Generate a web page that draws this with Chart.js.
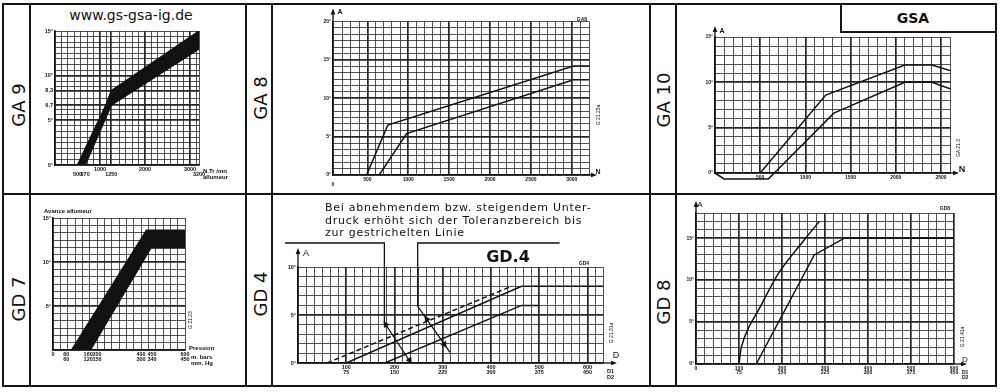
<!DOCTYPE html>
<html>
<head>
<meta charset="utf-8">
<title>Zündverstellkurven GA / GD</title>
<script src="https://cdn.jsdelivr.net/npm/chart.js@4.4.1/dist/chart.umd.min.js"></script>
<style>
  body { margin: 0; width: 1000px; height: 392px; position: relative; overflow: hidden; background: #fff; color: #111; font-family: 'DejaVu Sans', sans-serif; }
  .strich { position: absolute; background: #151515; }
  .txt { position: absolute; white-space: nowrap; line-height: 1; }
  .mitte { transform: translate(-50%, -50%); }
  .seite { position: absolute; font-size: 18px; white-space: nowrap; line-height: 1; transform: translate(-50%, -50%) rotate(-90deg); }
  .klein { font-family: 'Liberation Sans', sans-serif; font-size: 7px; font-weight: bold; }
  .code { position: absolute; font-family: 'Liberation Sans', sans-serif; font-size: 5px; white-space: nowrap; transform: translate(-50%, -50%) rotate(-90deg); }
  canvas { position: absolute; }
</style>
</head>
<body>

<!-- Rahmen und Felder -->
<div class="strich" style="left:3px;top:3px;width:994px;height:2px"></div>
<div class="strich" style="left:3px;top:385px;width:994px;height:2px"></div>
<div class="strich" style="left:2px;top:3px;width:2px;height:384px"></div>
<div class="strich" style="left:995px;top:3px;width:2px;height:384px"></div>
<div class="strich" style="left:3px;top:193px;width:994px;height:2px"></div>
<div class="strich" style="left:245px;top:3px;width:2px;height:384px"></div>
<div class="strich" style="left:649px;top:3px;width:2px;height:384px"></div>
<div class="strich" style="left:29px;top:3px;width:1.5px;height:384px"></div>
<div class="strich" style="left:271px;top:3px;width:1.5px;height:384px"></div>
<div class="strich" style="left:675px;top:3px;width:1.5px;height:384px"></div>
<div class="strich" style="left:840px;top:3px;width:1.5px;height:29px"></div>
<div class="strich" style="left:840px;top:31px;width:156px;height:1.5px"></div>

<div class="seite" style="left:19px;top:105px">GA 9</div>
<div class="seite" style="left:261px;top:98px">GA 8</div>
<div class="seite" style="left:664px;top:100px">GA 10</div>
<div class="seite" style="left:19px;top:299px">GD 7</div>
<div class="seite" style="left:261px;top:294px">GD 4</div>
<div class="seite" style="left:664px;top:302px">GD 8</div>

<div class="txt mitte" style="left:131px;top:15px;font-size:14px">www.gs-gsa-ig.de</div>
<div class="txt mitte" style="left:913px;top:18px;font-size:14px;font-weight:bold">GSA</div>

<canvas id="ga9"></canvas>
<canvas id="ga8"></canvas>
<canvas id="ga10"></canvas>
<canvas id="gd7"></canvas>
<canvas id="gd4"></canvas>
<canvas id="gd8"></canvas>

<!-- Beschriftungen ausserhalb der Achsen -->
<div class="txt klein" style="left:203px;top:168px;font-size:6px">N.Tr /mn</div>
<div class="txt klein" style="left:203px;top:174px;font-size:6px">allumeur</div>

<div class="txt klein mitte" style="left:340px;top:11px;font-size:7px">A</div>
<div class="txt klein mitte" style="left:598px;top:171px;font-size:7px">N</div>
<div class="txt klein mitte" style="left:582px;top:19px;font-size:5px">GA8</div>
<div class="txt klein mitte" style="left:333px;top:184px;font-size:5px">0</div>
<div class="code" style="left:598px;top:115px">G 21.23a</div>

<div class="txt klein mitte" style="left:722px;top:30px;font-size:7px">A</div>
<div class="txt klein mitte" style="left:962px;top:169px;font-size:9px">N</div>
<div class="code" style="left:958px;top:148px">GA 21.3</div>

<div class="txt klein" style="left:44px;top:208px;font-size:6px">Avance allumeur</div>
<div class="txt klein" style="left:189px;top:345px;font-size:6px">Pression</div>
<div class="txt klein" style="left:191px;top:353.5px;font-size:6px">m. bars</div>
<div class="txt klein" style="left:191px;top:359.5px;font-size:6px">mm. Hg</div>
<div class="code" style="left:190px;top:320px">G 21.23</div>

<div class="txt" style="left:325px;top:202px;font-size:11px;line-height:12.5px;letter-spacing:0.75px">Bei abnehmendem bzw. steigendem Unter-<br>druck erhöht sich der Toleranzbereich bis<br>zur gestrichelten Linie</div>
<div class="txt mitte" style="left:508px;top:257px;font-size:16px;font-weight:bold">GD.4</div>
<div class="txt klein mitte" style="left:306px;top:253px;font-size:9px;font-weight:normal">A</div>
<div class="txt klein mitte" style="left:584px;top:263px;font-size:5px">GD4</div>
<div class="txt klein mitte" style="left:616px;top:355px;font-size:9px;font-weight:normal">D</div>
<div class="txt klein" style="left:607px;top:369px;font-size:5.5px;line-height:5.6px">D1<br>D2</div>
<div class="code" style="left:611px;top:333px">G 21.31a</div>

<div class="txt klein mitte" style="left:700px;top:205px;font-size:8px;font-weight:normal">A</div>
<div class="txt klein mitte" style="left:945px;top:208px;font-size:5px">GD8</div>
<div class="txt klein mitte" style="left:965px;top:360px;font-size:8px;font-weight:normal">D</div>
<div class="txt klein" style="left:962px;top:370px;font-size:5px;line-height:4.6px">D1<br>D2</div>
<div class="code" style="left:962px;top:337px">G 21.41a</div>

<script>
// ---------- Werte ----------

// GA 9: Toleranzband Fliehkraftverstellung (Grad über Drehzahl)
var ga9ObenN = [500, 1130, 1250, 3200];
var ga9ObenGrad = [0, 6.7, 8.3, 15];
var ga9UntenN = [500, 670, 1250, 3200];
var ga9UntenGrad = [0, 0, 6.7, 13];
var ga9XTicks = [500, 670, 1000, 1250, 2000, 3000, 3200];
var ga9XLabels = [['', '500'], ['', '670'], ['1000', ''], ['', '1250'], ['2000', ''], ['3000', ''], ['', '3200']];
var ga9YTicks = [0, 5, 6.7, 8.3, 10, 15];
var ga9YLabels = ['0°', '5°', '6,7', '8,3', '10°', '15°'];

// GA 8
var ga8ObenN = [490, 750, 3020, 3210];
var ga8ObenGrad = [0, 6.5, 14.2, 14.2];
var ga8UntenN = [645, 980, 3020, 3210];
var ga8UntenGrad = [0, 5.4, 12.4, 12.4];
var ga8XTicks = [500, 1000, 1500, 2000, 2500, 3000];
var ga8XLabels = ['500', '1000', '1500', '2000', '2500', '3000'];
var ga8YTicks = [0, 5, 10, 15, 20];
var ga8YLabels = ['0°', '5°', '10°', '15°', '20°'];

// GA 10
var ga10ObenN = [500, 1225, 2100, 2400, 2600];
var ga10ObenGrad = [0, 8.6, 11.9, 11.9, 11.3];
var ga10UntenN = [0, 100, 590, 1315, 2100, 2400, 2600];
var ga10UntenGrad = [0, -0.66, -0.66, 6.6, 10, 10, 9.3];
var ga10XTicks = [500, 1000, 1500, 2000, 2500];
var ga10XLabels = ['500', '1000', '1500', '2000', '2500'];
var ga10YTicks = [0, 5, 10, 15];
var ga10YLabels = ['0°', '5°', '10°', '15°'];

// GD 7: Toleranzband Unterdruckverstellung (Grad über Unterdruck)
var gd7ObenP = [85, 425, 600];
var gd7ObenGrad = [0, 13.6, 13.6];
var gd7UntenP = [85, 170, 445, 600];
var gd7UntenGrad = [0, 0, 11.6, 11.6];
var gd7XTicks = [0, 60, 160, 200, 400, 450, 600];
var gd7XLabels = [['0', ''], ['60', '60'], ['160', '120'], ['200', '150'], ['400', '300'], ['450', '340'], ['600', '450']];
var gd7YTicks = [5, 10, 15];
var gd7YLabels = ['5°', '10°', '15°'];

// GD 4
var gd4StrichD = [60, 443];
var gd4StrichGrad = [0, 8];
var gd4ObenD = [100, 463, 632];
var gd4ObenGrad = [0, 8, 8];
var gd4UntenD = [180, 463, 500];
var gd4UntenGrad = [0, 6, 6];
var gd4HinweisLinksD = [-27, 179, 179, 234];
var gd4HinweisLinksGrad = [12.5, 12.5, 4.2, 0];
var gd4HinweisRechtsD = [542, 248, 248, 315];
var gd4HinweisRechtsGrad = [12.5, 12.5, 5.9, 1.1];
var gd4SpitzenD = [182, 231, 267, 303];
var gd4SpitzenGrad = [4.0, 0.3, 4.55, 1.95];
var gd4SpitzenWinkel = [327, 147, 325, 145];
var gd4XTicks = [100, 200, 300, 400, 500, 600];
var gd4XLabels = [['100', '75'], ['200', '150'], ['300', '225'], ['400', '300'], ['500', '375'], ['600', '450']];
var gd4YTicks = [0, 5, 10];
var gd4YLabels = ['0°', '5°', '10°'];

// GD 8
var gd8LinksD = [100, 106, 122, 147, 193, 255, 287];
var gd8LinksGrad = [0, 2.1, 4.3, 6.6, 10.9, 15, 17];
var gd8RechtsD = [140, 275, 345, 600];
var gd8RechtsGrad = [0, 13, 15, 15];
var gd8XTicks = [0, 100, 200, 300, 400, 500, 600];
var gd8XLabels = [['0', ''], ['100', '75'], ['200', '150'], ['300', '225'], ['400', '300'], ['500', '375'], ['600', '450']];
var gd8YTicks = [0, 5, 10, 15];
var gd8YLabels = ['0°', '5°', '10°', '15°'];


// ---------- Hilfsfunktionen ----------

Chart.defaults.font.family = 'Liberation Sans';
Chart.defaults.color = '#111';

function punkte(xs, ys) {
    return xs.map(function (x, i) { return { x: x, y: ys[i] }; });
}

// Rasterlinien: gleichmässige Teilung plus Zusatzlinien
function raster(start, ende, schritt, extra) {
    var werte = [];
    extra = extra || [];
    for (var i = 0; start + i * schritt <= ende + 1e-6; i++) {
        werte.push(+(start + i * schritt).toFixed(4));
    }
    werte = werte.filter(function (v) {
        return !extra.some(function (e) { return Math.abs(e - v) < schritt * 0.35 && e !== v; });
    });
    werte = Array.from(new Set(werte.concat(extra))).sort(function (a, b) { return a - b; });
    return werte;
}

function nullPadding(s) {
    s.paddingLeft = 0; s.paddingRight = 0; s.paddingTop = 0; s.paddingBottom = 0;
}

function staerke(liste) {
    return function (ctx) {
        return ctx.tick && liste.indexOf(ctx.tick.value) >= 0 ? 1.7 : 0.8;
    };
}

function achsen(c) {
    var schrift = { family: 'Liberation Sans', size: c.schrift || 7, weight: 'bold', lineHeight: c.zeile || 0.95 };
    return {
        xg: {
            type: 'linear', position: 'bottom', min: c.xMin, max: c.xMax,
            afterBuildTicks: function (s) { s.ticks = c.xRaster.map(function (v) { return { value: v }; }); },
            ticks: { display: false },
            grid: { color: '#262626', lineWidth: staerke(c.xStark), drawTicks: false },
            border: { display: true, color: '#111', width: 1.5 },
            afterFit: function (s) { s.height = 0; nullPadding(s); }
        },
        x: {
            type: 'linear', position: 'bottom', min: c.xMin, max: c.xMax,
            afterBuildTicks: function (s) { s.ticks = c.xTicks.map(function (v) { return { value: v }; }); },
            ticks: { autoSkip: false, maxRotation: 0, padding: 2, font: schrift, callback: function (v, i) { return c.xLabels[i]; } },
            grid: { display: false, drawTicks: false },
            border: { display: false },
            afterFit: function (s) { s.height = c.xH; nullPadding(s); }
        },
        yg: {
            type: 'linear', position: 'left', min: c.yMin, max: c.yMax,
            afterBuildTicks: function (s) { s.ticks = c.yRaster.map(function (v) { return { value: v }; }); },
            ticks: { display: false },
            grid: { color: '#262626', lineWidth: staerke(c.yStark), drawTicks: false },
            border: { display: true, color: '#111', width: 1.5 },
            afterFit: function (s) { s.width = 0; nullPadding(s); }
        },
        y: {
            type: 'linear', position: 'left', min: c.yMin, max: c.yMax,
            afterBuildTicks: function (s) { s.ticks = c.yTicks.map(function (v) { return { value: v }; }); },
            ticks: { autoSkip: false, padding: 2, font: schrift, callback: function (v, i) { return c.yLabels[i]; } },
            grid: { display: false, drawTicks: false },
            border: { display: false },
            afterFit: function (s) { s.width = c.yW; nullPadding(s); }
        }
    };
}

// Achsenpfeile (A nach oben, N/D nach rechts)
var pfeile = {
    id: 'pfeile',
    afterDatasetsDraw: function (chart, args, o) {
        var a = chart.chartArea, g = chart.ctx;
        g.save();
        g.strokeStyle = '#111';
        g.fillStyle = '#111';
        g.lineWidth = 1.3;
        if (o.oben) {
            var ty = a.top - o.oben;
            g.beginPath(); g.moveTo(a.left, a.top); g.lineTo(a.left, ty); g.stroke();
            g.beginPath(); g.moveTo(a.left, ty - 2); g.lineTo(a.left - 2.3, ty + 4); g.lineTo(a.left + 2.3, ty + 4); g.closePath(); g.fill();
        }
        if (o.rechts) {
            var tx = a.right + o.rechts;
            g.beginPath(); g.moveTo(a.right, a.bottom); g.lineTo(tx, a.bottom); g.stroke();
            g.beginPath(); g.moveTo(tx + 2, a.bottom); g.lineTo(tx - 4, a.bottom - 2.3); g.lineTo(tx - 4, a.bottom + 2.3); g.closePath(); g.fill();
        }
        g.restore();
    }
};

function linie(xs, ys, extra) {
    return Object.assign({
        data: punkte(xs, ys), xAxisID: 'x', yAxisID: 'y',
        borderColor: '#111', borderWidth: 1.5, pointRadius: 0, fill: false, tension: 0
    }, extra || {});
}

// rahmen = Canvas auf der Seite, plot = gewünschte Diagrammfläche
function zeichne(id, rahmen, plot, c, datasets, pfeilCfg) {
    var cv = document.getElementById(id);
    var b = rahmen[2] - rahmen[0], h = rahmen[3] - rahmen[1];
    cv.width = b; cv.height = h;
    cv.style.left = rahmen[0] + 'px';
    cv.style.top = rahmen[1] + 'px';
    cv.style.width = b + 'px';
    cv.style.height = h + 'px';
    return new Chart(cv.getContext('2d'), {
        type: 'line',
        data: { datasets: datasets },
        options: {
            responsive: false, animation: false, events: [],
            layout: { padding: {
                left: plot[0] - rahmen[0] - c.yW, top: plot[1] - rahmen[1],
                right: rahmen[2] - plot[2], bottom: rahmen[3] - plot[3] - c.xH
            } },
            scales: achsen(c),
            plugins: { legend: { display: false }, tooltip: { enabled: false }, pfeile: pfeilCfg || {} }
        },
        plugins: [pfeile]
    });
}


// ---------- Diagramme ----------

zeichne('ga9', [30, 4, 246, 194], [55, 31, 199, 165], {
    xMin: 0, xMax: 3200, yMin: 0, yMax: 15, xH: 16, yW: 20, schrift: 5.5,
    xRaster: raster(0, 3200, 1000 / 7, [1250, 3200]), xStark: [1000, 1250, 2000, 3000],
    yRaster: raster(0, 15, 0.625, [6.7, 8.3]), yStark: [5, 6.7, 8.3, 10],
    xTicks: ga9XTicks, xLabels: ga9XLabels, yTicks: ga9YTicks, yLabels: ga9YLabels
}, [
    linie(ga9ObenN, ga9ObenGrad, { fill: '+1', backgroundColor: '#111' }),
    linie(ga9UntenN, ga9UntenGrad)
]);

zeichne('ga8', [272, 4, 650, 194], [333, 21.5, 589, 175], {
    xMin: 80, xMax: 3210, yMin: 0, yMax: 20, xH: 12, yW: 18, schrift: 5,
    xRaster: raster(100, 3200, 100, [80, 3210]), xStark: [500, 1000, 1500, 2000, 2500, 3000],
    yRaster: raster(0, 20, 5 / 6), yStark: [5, 10, 15],
    xTicks: ga8XTicks, xLabels: ga8XLabels, yTicks: ga8YTicks, yLabels: ga8YLabels
}, [
    linie(ga8ObenN, ga8ObenGrad),
    linie(ga8UntenN, ga8UntenGrad)
], { oben: 11, rechts: 6 });

zeichne('ga10', [676, 4, 996, 194], [715, 37, 950, 173], {
    xMin: 0, xMax: 2600, yMin: 0, yMax: 15, xH: 12, yW: 18, schrift: 5,
    xRaster: raster(0, 2600, 100), xStark: [500, 1000, 1500, 2000, 2500],
    yRaster: raster(0, 15, 1), yStark: [5, 10],
    xTicks: ga10XTicks, xLabels: ga10XLabels, yTicks: ga10YTicks, yLabels: ga10YLabels
}, [
    linie(ga10ObenN, ga10ObenGrad),
    linie(ga10UntenN, ga10UntenGrad, { clip: false })
], { oben: 9, rechts: 7 });

zeichne('gd7', [30, 194, 246, 386], [53, 218, 185, 350], {
    xMin: 0, xMax: 600, yMin: 0, yMax: 15, xH: 16, yW: 18, schrift: 5.5,
    xRaster: raster(0, 600, 100 / 3), xStark: [],
    yRaster: raster(0, 15, 5 / 6), yStark: [5, 10],
    xTicks: gd7XTicks, xLabels: gd7XLabels, yTicks: gd7YTicks, yLabels: gd7YLabels
}, [
    linie(gd7ObenP, gd7ObenGrad, { fill: '+1', backgroundColor: '#111' }),
    linie(gd7UntenP, gd7UntenGrad)
]);

zeichne('gd4', [272, 194, 650, 386], [298, 267, 603, 363], {
    xMin: 0, xMax: 632, yMin: 0, yMax: 10, xH: 16, yW: 18, schrift: 5.5,
    xRaster: raster(0, 632, 100 / 6, [632]), xStark: [100, 200, 300, 400, 500, 600],
    yRaster: raster(0, 10, 1), yStark: [5],
    xTicks: gd4XTicks, xLabels: gd4XLabels, yTicks: gd4YTicks, yLabels: gd4YLabels
}, [
    linie(gd4StrichD, gd4StrichGrad, { borderDash: [5, 3] }),
    linie(gd4ObenD, gd4ObenGrad),
    linie(gd4UntenD, gd4UntenGrad),
    linie(gd4HinweisLinksD, gd4HinweisLinksGrad, { borderWidth: 1.3, clip: false }),
    linie(gd4HinweisRechtsD, gd4HinweisRechtsGrad, { borderWidth: 1.3, clip: false }),
    {
        data: punkte(gd4SpitzenD, gd4SpitzenGrad), xAxisID: 'x', yAxisID: 'y', showLine: false, clip: false,
        pointStyle: 'triangle', pointRadius: 3.5, pointRotation: gd4SpitzenWinkel,
        pointBackgroundColor: '#111', pointBorderColor: '#111', pointBorderWidth: 0.5
    }
], { oben: 17, rechts: 12 });

zeichne('gd8', [676, 194, 996, 386], [696, 213, 954, 364], {
    xMin: 0, xMax: 600, yMin: 0, yMax: 18, xH: 16, yW: 16, schrift: 5, zeile: 0.9,
    xRaster: raster(0, 600, 20), xStark: [100, 200, 300, 400, 500, 600],
    yRaster: raster(0, 18, 1), yStark: [5, 10, 15],
    xTicks: gd8XTicks, xLabels: gd8XLabels, yTicks: gd8YTicks, yLabels: gd8YLabels
}, [
    linie(gd8LinksD, gd8LinksGrad, { tension: 0.3 }),
    linie(gd8RechtsD, gd8RechtsGrad)
], { oben: 10, rechts: 11 });
</script>
</body>
</html>
